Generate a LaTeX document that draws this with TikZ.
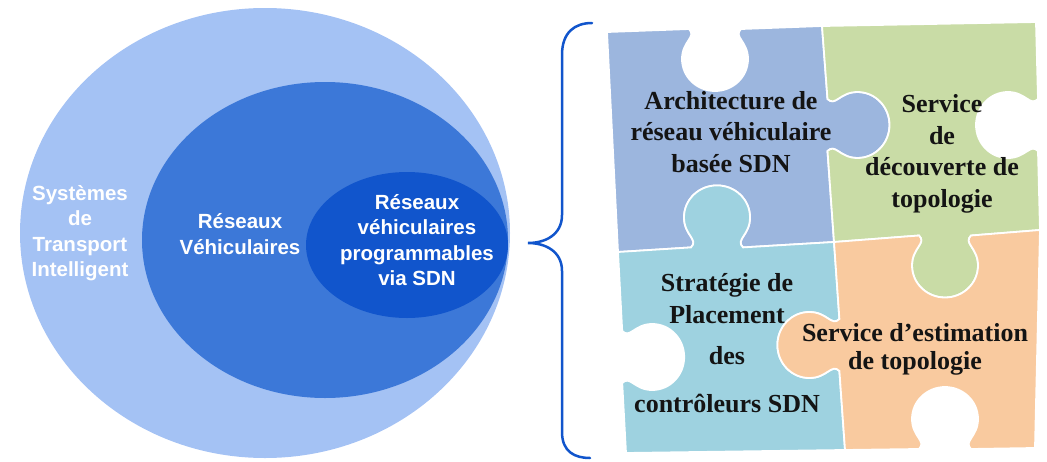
\documentclass[tikz,border=0pt]{standalone}
\usepackage{fontspec}
\setmainfont{Liberation Serif}
\setsansfont{Liberation Sans}

\definecolor{itsblue}{HTML}{A4C2F4}
\definecolor{vanetblue}{HTML}{3C78D8}
\definecolor{sdnblue}{HTML}{1155CC}
\definecolor{archiblue}{HTML}{9CB6DE}
\definecolor{decouvgreen}{HTML}{C9DCA6}
\definecolor{placecyan}{HTML}{9ED2E0}
\definecolor{estimorange}{HTML}{F9CA9F}

% puzzle tab: base point, direction along the edge, direction of the tab
\newcommand\knob[6]{%
  -- ({#1-26*(#3)},{#2-26*(#4)})
  .. controls ({#1-18*(#3)+8*(#5)},{#2-18*(#4)+8*(#6)})
          and ({#1-33*(#3)+12*(#5)},{#2-33*(#4)+12*(#6)})
  .. ({#1-33*(#3)+30*(#5)},{#2-33*(#4)+30*(#6)})
  .. controls ({#1-33*(#3)+48*(#5)},{#2-33*(#4)+48*(#6)})
          and ({#1-18*(#3)+62*(#5)},{#2-18*(#4)+62*(#6)})
  .. ({#1+62*(#5)},{#2+62*(#6)})
  .. controls ({#1+18*(#3)+62*(#5)},{#2+18*(#4)+62*(#6)})
          and ({#1+33*(#3)+48*(#5)},{#2+33*(#4)+48*(#6)})
  .. ({#1+33*(#3)+30*(#5)},{#2+33*(#4)+30*(#6)})
  .. controls ({#1+33*(#3)+12*(#5)},{#2+33*(#4)+12*(#6)})
          and ({#1+18*(#3)+8*(#5)},{#2+18*(#4)+8*(#6)})
  .. ({#1+26*(#3)},{#2+26*(#4)})
}

\tikzset{
  cercle/.style={font=\sffamily\bfseries\fontsize{20.5}{25.5}\selectfont, text=white, align=center},
  piece/.style={draw=white, line width=1.8pt},
  etiquette/.style={font=\bfseries\fontsize{26}{31.5}\selectfont, text=black!92, align=center},
}

\begin{document}
\begin{tikzpicture}[x=1pt, y=-1pt]
    \useasboundingbox (0,0) rectangle (1047,461);

    \fill[itsblue] (265,233) ellipse [x radius=245, y radius=225];
    \fill[vanetblue] (325,240) ellipse [x radius=183, y radius=158];
    \fill[sdnblue] (407,245) ellipse [x radius=101, y radius=73];

    \node[cercle] (its) at (80,233) {Systèmes\\de\\Transport\\Intelligent};
    \node[cercle] (rv) at (240,234) {Réseaux\\Véhiculaires};
    \node[cercle] (sdnv) at (417,240) {Réseaux\\véhiculaires\\programmables\\via SDN};

    % accolade
    \draw[sdnblue, line width=2.5pt, line cap=round]
        (592,23) .. controls (575,23) and (562,32) .. (562,55)
        -- (562,215) .. controls (562,235) and (545,243) .. (528,243)
        .. controls (545,243) and (562,251) .. (562,271)
        -- (562,432) .. controls (562,452) and (575,458) .. (590,458);

    % pieces du puzzle
    \fill[archiblue, piece] (607,32) \knob{715}{29}{1}{0}{0}{1}
        -- (822,26) \knob{827.5}{125}{0}{1}{1}{0}
        -- (834,242) \knob{717}{247.4}{-1}{0}{0}{-1}
        -- (618,252) -- cycle;
    \fill[decouvgreen, piece] (822,26) -- (1036,22) \knob{1038}{125}{0}{1}{-1}{0}
        -- (1040,230) \knob{945}{235.5}{-1}{0}{0}{1}
        -- (834,242) \knob{827.5}{125}{0}{-1}{1}{0}
        -- cycle;
    \fill[placecyan, piece] (618,252) \knob{717}{247.4}{1}{0}{0}{-1}
        -- (834,242) \knob{839.4}{345}{0}{1}{-1}{0}
        -- (845,450) -- (626,453) \knob{622.2}{357}{0}{-1}{1}{0}
        -- cycle;
    \fill[estimorange, piece] (834,242) \knob{945}{235.5}{1}{0}{0}{1}
        -- (1040,230) -- (1035,448) \knob{945}{449}{-1}{0}{0}{-1}
        -- (845,450) \knob{839.4}{345}{0}{-1}{-1}{0}
        -- cycle;

    \node[etiquette] (archi) at (731,132) {Architecture de\\réseau véhiculaire\\basée SDN};
    \node[etiquette] (decouv) at (942,154) {Service\\de\\découverte de\\topologie};
    \node[etiquette] (placement) at (727,343) {Stratégie de\\Placement\\[10pt]des\\[16pt]contrôleurs SDN};
    \node[etiquette, font=\bfseries\fontsize{26}{28}\selectfont] (estim) at (915,349) {Service d’estimation\\de topologie};
\end{tikzpicture}
\end{document}
